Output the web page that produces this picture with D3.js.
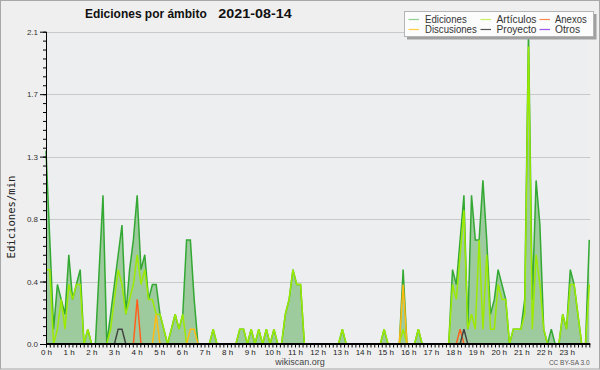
<!DOCTYPE html>
<html><head><meta charset="utf-8">
<script src="https://cdn.jsdelivr.net/npm/d3@7"></script>
<style>body{margin:0;background:#efefef}svg{display:block}</style>
</head><body><svg id="c" width="600" height="370"></svg>
<script>
// ---- data (edits per minute, 10-minute bins, 144 bins) ----
const ediciones = [
 1.3,0.7,0.1,0.4,0.3,0.2,0.6,0.3,0.4,0.5,0,0.1,
 0,0,0.5,1.0,0,0.2,0.4,0.6,0.8,0.2,0.5,0.7,
 1.0,0.5,0.6,0.3,0.4,0.4,0.2,0.1,0,0.1,0.2,0.1,
 0.2,0.7,0.7,0.3,0,0,0,0,0.1,0,0,0,
 0,0,0,0.1,0.1,0,0.1,0,0.1,0,0.1,0,
 0.1,0,0,0.2,0.3,0.5,0.4,0.4,0,0,0,0,
 0,0,0,0,0,0,0.1,0,0,0,0,0,
 0,0,0,0,0,0.1,0,0,0,0,0.5,0,
 0,0,0.1,0,0,0,0,0,0,0,0,0.5,
 0.4,0.7,1.0,0.1,1.0,0.7,0.7,1.1,0.7,0.2,0.3,0.5,
 0.4,0.3,0,0.1,0.1,0.1,0.3,2.1,0.3,1.1,0.8,0.1,
 0,0.1,0,0,0.2,0.1,0.5,0.4,0.2,0,0,0.7];
const articulos = [
 0.5,0.5,0,0.1,0.3,0.1,0.4,0.3,0.4,0.4,0,0.1,
 0,0,0,0,0,0.1,0.3,0.5,0.4,0.2,0.3,0.4,
 0.6,0.4,0.5,0.3,0.3,0.2,0.2,0.1,0,0.1,0.2,0.1,
 0.2,0,0,0,0,0,0,0,0.1,0,0,0,
 0,0,0,0.1,0.1,0,0.1,0,0.1,0,0.1,0,
 0.1,0,0,0.2,0.3,0.5,0.4,0.4,0,0,0,0,
 0,0,0,0,0,0,0.1,0,0,0,0,0,
 0,0,0,0,0,0.1,0,0,0,0,0.1,0,
 0,0,0.1,0,0,0,0,0,0,0,0,0.4,
 0.3,0.6,0.9,0.1,0.2,0.1,0.7,0.1,0.6,0.1,0.1,0.4,
 0.3,0.3,0,0.1,0.1,0.1,0.2,2.0,0.1,0.6,0.4,0.1,
 0,0,0,0,0.2,0.1,0.4,0.4,0.2,0,0,0.4];
const discusiones = [
 0,0,0,0,0,0,0,0,0,0,0,0,
 0,0,0,0,0,0,0,0,0,0,0,0,
 0,0,0,0,0,0.2,0,0,0,0,0,0,
 0,0,0.1,0.1,0,0,0,0,0,0,0,0,
 0,0,0,0,0,0,0,0,0,0,0,0,
 0,0,0,0,0,0,0,0,0,0,0,0,
 0,0,0,0,0,0,0,0,0,0,0,0,
 0,0,0,0,0,0,0,0,0,0,0.4,0,
 0,0,0,0,0,0,0,0,0,0,0,0,
 0,0,0,0,0,0,0,0,0,0,0,0,
 0,0,0,0,0,0,0,0,0,0,0,0,
 0,0,0,0,0,0,0,0,0,0,0,0];
const anexos = [
 0,0,0,0,0,0,0,0,0,0,0,0,
 0,0,0,0,0,0,0,0,0,0,0,0,
 0.3,0,0,0,0,0,0,0,0,0,0,0,
 0,0,0,0,0,0,0,0,0,0,0,0,
 0,0,0,0,0,0,0,0,0,0,0,0,
 0,0,0,0,0,0,0,0,0,0,0,0,
 0,0,0,0,0,0,0,0,0,0,0,0,
 0,0,0,0,0,0,0,0,0,0,0,0,
 0,0,0,0,0,0,0,0,0,0,0,0,
 0,0.1,0,0,0,0,0,0,0,0,0,0,
 0,0,0,0,0,0,0,0,0,0,0,0,
 0,0,0,0,0,0,0,0,0,0,0,0];
const proyecto = [
 0,0,0,0,0,0,0,0,0,0,0,0,
 0,0,0,0,0,0,0,0.1,0.1,0,0,0,
 0,0,0,0,0,0,0,0,0,0,0,0,
 0,0,0,0,0,0,0,0,0,0,0,0,
 0,0,0,0,0,0,0,0,0,0,0,0,
 0,0,0,0,0,0,0,0,0,0,0,0,
 0,0,0,0,0,0,0,0,0,0,0,0,
 0,0,0,0,0,0,0,0,0,0,0,0,
 0,0,0,0,0,0,0,0,0,0,0,0,
 0,0,0.1,0,0,0,0,0,0,0,0,0,
 0,0,0,0,0,0,0,0,0,0,0,0,
 0,0,0,0,0,0,0,0,0,0,0,0];
const otros = [
 0,0,0,0,0,0,0,0,0,0,0,0,
 0,0,0,0,0,0,0,0,0,0,0,0,
 0,0,0,0,0,0,0,0,0,0,0,0,
 0,0,0,0,0,0,0,0,0,0,0,0,
 0,0,0,0,0,0,0,0,0,0,0,0,
 0,0,0,0,0,0,0,0,0,0,0,0,
 0,0,0,0,0,0,0,0,0,0,0,0,
 0,0,0,0,0,0,0,0,0,0,0,0,
 0,0,0,0,0,0,0,0,0,0,0,0,
 0,0,0,0,0,0,0,0,0,0,0,0,
 0,0,0,0,0,0,0,0,0,0,0,0,
 0,0,0,0,0,0,0,0,0,0,0,0];
const hourLabels = ["0 h","1 h","2 h","3 h","4 h","5 h","6 h","7 h","8 h","9 h","10 h","11 h",
 "12 h","13 h","14 h","15 h","16 h","17 h","18 h","19 h","20 h","21 h","22 h","23 h"];
const yTickValues = [0, 0.42, 0.84, 1.26, 1.68, 2.1];
const yTickLabels = ["0.0","0.4","0.8","1.3","1.7","2.1"];
const yMinorStep = 0.06;
const yMax = 2.1;
const legendNames = ["Ediciones","Artículos","Anexos","Discusiones","Proyecto","Otros"];
const titleText = "Ediciones por ámbito";
const dateText = "2021-08-14";

// ---- layout ----
const L = 46, R = 589.3, T = 31.7, B = 344;
const svg = d3.select("#c");
const n = ediciones.length;
const xi = d3.scaleLinear().domain([0, n - 1]).range([L, R]);
const xh = d3.scaleLinear().domain([0, 24]).range([L, R]);
const y = d3.scaleLinear().domain([0, yMax]).range([B, T]);

svg.append("rect").attr("x",0).attr("y",0).attr("width",600).attr("height",370).attr("fill","#efefef");
svg.append("rect").attr("x",0.5).attr("y",0.5).attr("width",599).attr("height",368.5)
  .attr("fill","none").attr("stroke","#a8a8a8");
svg.append("rect").attr("x",L).attr("y",T).attr("width",R-L).attr("height",B-T).attr("fill","#edeef0");

// gridlines
svg.append("g").selectAll("line").data(yTickValues.filter(v=>v>0)).join("line")
  .attr("x1",L).attr("x2",R+1).attr("y1",d=>Math.round(y(d))+0.5).attr("y2",d=>Math.round(y(d))+0.5)
  .attr("stroke","#c9c9c9").attr("stroke-width",1);

// series
const colors = {
  ed:"#33a833", edFill:"#9ecb9e", art:"#9bea00", disc:"#ffbb11", anex:"#ff6020", proy:"#444444", otros:"#9944ee"
};
const area = d3.area().x((d,i)=>xi(i)).y0(y(0)).y1(d=>y(d));
const line = d3.line().x((d,i)=>xi(i)).y(d=>y(d));
svg.append("path").datum(ediciones).attr("d",area).attr("fill",colors.edFill);
svg.append("path").datum(ediciones).attr("d",line).attr("fill","none").attr("stroke",colors.ed).attr("stroke-width",1.5);
[[articulos,colors.art],[discusiones,colors.disc],[anexos,colors.anex],[proyecto,colors.proy],[otros,colors.otros]]
 .forEach(([s,c])=>{
  if (d3.max(s) === 0) return;
  svg.append("path").datum(s).attr("d",line).attr("fill","none").attr("stroke",c).attr("stroke-width",1.5);
 });

// axes
const fontS = "Liberation Sans, Arial, sans-serif";
const yMinor = d3.range(0, yMax + 1e-9, yMinorStep);
svg.append("g").attr("transform",`translate(${L},0)`)
  .call(d3.axisLeft(y).tickValues(yMinor).tickSize(3).tickSizeOuter(0).tickFormat(""))
  .call(g=>g.select(".domain").remove());
const ya = svg.append("g").attr("transform",`translate(${L},0)`)
  .call(d3.axisLeft(y).tickValues(yTickValues).tickSize(6).tickSizeOuter(0).tickPadding(2)
    .tickFormat((d,i)=>yTickLabels[i]));
ya.selectAll("text").attr("font-family",fontS).attr("font-size","8px").attr("fill","#333");
ya.select(".domain").attr("d",`M0.5,${T}V${B}`);

const xTicks = d3.range(0, 24*6 + 1).map(k=>k/6);
const xa = svg.append("g").attr("transform",`translate(0,${B})`)
  .call(d3.axisBottom(xh).tickValues(xTicks).tickSize(3.5).tickSizeOuter(0).tickPadding(1.5)
    .tickFormat(d=>{const h=Math.round(d); return (Math.abs(d-h)<1e-6 && h<24) ? hourLabels[h] : "";}));
xa.selectAll("text").attr("font-family",fontS).attr("font-size","8px").attr("fill","#222");
xa.select(".domain").attr("d",`M${L},0H${R+1}`).attr("stroke-width",2);

// axis title
svg.append("text").attr("transform","translate(15,217) rotate(-90)").attr("text-anchor","middle")
  .attr("font-family","DejaVu Sans Mono, monospace").attr("font-size","10.5px").attr("fill","#222")
  .attr("textLength",83).attr("lengthAdjust","spacingAndGlyphs").text("Ediciones/min");

// title
svg.append("text").attr("x",85).attr("y",17.5).attr("font-family",fontS).attr("font-weight","bold")
  .attr("font-size","12px").attr("fill","#111").attr("textLength",121.7).attr("lengthAdjust","spacingAndGlyphs").text(titleText);
svg.append("text").attr("x",218.3).attr("y",17.5).attr("font-family",fontS).attr("font-weight","bold")
  .attr("font-size","12px").attr("fill","#111").attr("textLength",73.4).attr("lengthAdjust","spacingAndGlyphs").text(dateText);

// legend
const lg = svg.append("g");
lg.append("rect").attr("x",407).attr("y",14).attr("width",189.5).attr("height",25.5).attr("fill","#a0a0a0");
lg.append("rect").attr("x",404.5).attr("y",11.5).attr("width",189).attr("height",25).attr("fill","#fcfcfc").attr("stroke","#b4b4b4");
const legColors = ["#8fcf8f","#c8f060","#ff8a50","#ffcc44","#555555","#9955ee"];
const legCol = [408.5, 480.5, 539.5];
const legText = [425, 496.5, 555];
const legW = [41.7, 40, 31.7, 51.7, 40, 25];
legendNames.forEach((name,k)=>{
  const c = k % 3, r = Math.floor(k/3);
  const ly = 19.5 + r*10;
  lg.append("line").attr("x1",legCol[c]).attr("x2",legCol[c]+10.5).attr("y1",ly).attr("y2",ly)
    .attr("stroke",legColors[k]).attr("stroke-width",1.2);
  lg.append("text").attr("x",legText[c]).attr("y",ly+3.3).attr("font-family",fontS).attr("font-size","10px")
    .attr("fill","#333").attr("textLength",legW[k]).attr("lengthAdjust","spacingAndGlyphs").text(name);
});

// footer
svg.append("text").attr("x",300).attr("y",365).attr("text-anchor","middle").attr("font-family",fontS)
  .attr("font-size","9px").attr("fill","#444").text("wikiscan.org");
svg.append("text").attr("x",589.5).attr("y",365).attr("text-anchor","end").attr("font-family",fontS)
  .attr("font-size","6.5px").attr("fill","#555").text("CC BY-SA 3.0");
</script></body></html>
